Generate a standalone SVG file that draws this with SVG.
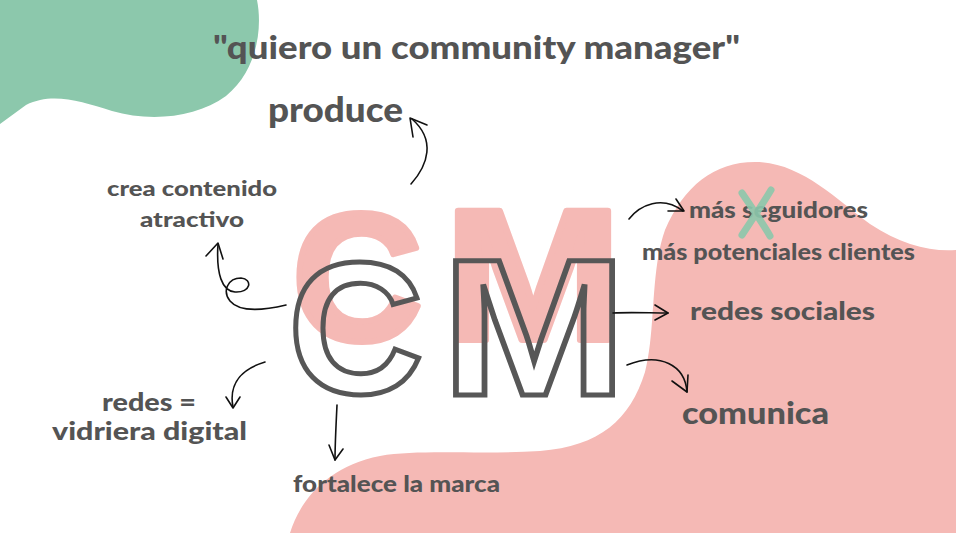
<svg xmlns="http://www.w3.org/2000/svg" width="956" height="533" viewBox="0 0 956 533">
<style>
.lbl{font-family:"Lato","Open Sans","Liberation Sans",sans-serif;font-weight:900;fill:#545454}
.big{font-family:"Liberation Sans","Arial",sans-serif;font-weight:700}
.pink{fill:#f5b9b5;stroke:#f5b9b5;stroke-width:6;stroke-linejoin:round}
.out{fill:none;stroke:#575757;stroke-width:5;stroke-linejoin:miter}
.arr{fill:none;stroke:#111;stroke-width:1.6;stroke-linecap:round;stroke-linejoin:round}
</style>
<rect width="956" height="533" fill="#ffffff"/>
<g id="background">
<path d="M0 0 L257 0 C263 30 256 72 226 96 C196 118 150 122 112 111 C80 101 52 92 26 105 L0 124 Z" fill="#8cc8ac"/>
<path d="M290 533 C300 500 328 466 380 456 C420 449 480 455 540 451 C600 446 630 420 645 372 C656 330 650 272 665 230 C684 186 714 162 755 162 C800 162 835 198 870 224 C900 244 930 252 956 250 L956 533 Z" fill="#f5b9b5"/>
</g>
<g id="logo">
<text class="big pink" x="292" y="340" font-size="181">C</text>
<text class="big pink" x="444" y="340" font-size="187" textLength="178" lengthAdjust="spacingAndGlyphs">M</text>
<text class="big out" x="288" y="393" font-size="188">C</text>
<text class="big out" x="441" y="394.5" font-size="194" textLength="186" lengthAdjust="spacingAndGlyphs">M</text>
</g>
<g id="title"><text class="lbl" x="213" y="59" font-size="33" textLength="527" lengthAdjust="spacingAndGlyphs">"quiero un community manager"</text></g>
<g id="produce"><text class="lbl" x="268" y="122" font-size="35" textLength="135" lengthAdjust="spacingAndGlyphs">produce</text></g>
<g id="crea-contenido">
<text class="lbl" x="107" y="196" font-size="21" textLength="170" lengthAdjust="spacingAndGlyphs">crea contenido</text>
<text class="lbl" x="140" y="227" font-size="21" textLength="104" lengthAdjust="spacingAndGlyphs">atractivo</text>
</g>
<g id="redes-vidriera">
<text class="lbl" x="102" y="411" font-size="24" textLength="94" lengthAdjust="spacingAndGlyphs">redes =</text>
<text class="lbl" x="52" y="440" font-size="24" textLength="195" lengthAdjust="spacingAndGlyphs">vidriera digital</text>
</g>
<g id="fortalece"><text class="lbl" x="293" y="492" font-size="23" textLength="207" lengthAdjust="spacingAndGlyphs">fortalece la marca</text></g>
<g id="seguidores">
<text class="lbl" x="689" y="218" font-size="22" textLength="179" lengthAdjust="spacingAndGlyphs">más seguidores</text>
<g opacity="0.9" stroke="#8cc8ac" stroke-linecap="round" fill="none">
<path d="M742 193 C752 208 762 222 770 236" stroke-width="7"/>
<path d="M771 190 C762 205 752 220 742 235" stroke-width="7"/>
</g>
<text class="lbl" x="642" y="260" font-size="22" textLength="273" lengthAdjust="spacingAndGlyphs">más potenciales clientes</text>
</g>
<g id="redes-sociales"><text class="lbl" x="690" y="320" font-size="25" textLength="185" lengthAdjust="spacingAndGlyphs">redes sociales</text></g>
<g id="comunica"><text class="lbl" x="682" y="424" font-size="31" textLength="147" lengthAdjust="spacingAndGlyphs">comunica</text></g>
<g id="connectors">
<path class="arr" d="M411 184 C428 165 436 140 412 119"/>
<path class="arr" d="M427 125 L410 118 L413 137"/>
<path class="arr" d="M286 305 C265 310 240 313 230 301 C222 291 228 278 241 278 C253 279 251 293 235 292 C222 291 216 274 218 244"/>
<path class="arr" d="M206 256 L218 243 L223 259"/>
<path class="arr" d="M265 362 C245 368 228 381 233 407"/>
<path class="arr" d="M226 397 L233 408 L240 397"/>
<path class="arr" d="M337 405 C336 425 335 445 335 460"/>
<path class="arr" d="M329 445 L335 460 L343 449"/>
<path class="arr" d="M629 219 C640 205 662 195 683 211"/>
<path class="arr" d="M676 199 L684 211 L668 211"/>
<path class="arr" d="M613 313 C630 312 650 313 668 313"/>
<path class="arr" d="M655 305 L668 313 L655 320"/>
<path class="arr" d="M627 365 C660 352 685 365 687 392"/>
<path class="arr" d="M672 381 L687 392 L688 375"/>
</g>
</svg>
